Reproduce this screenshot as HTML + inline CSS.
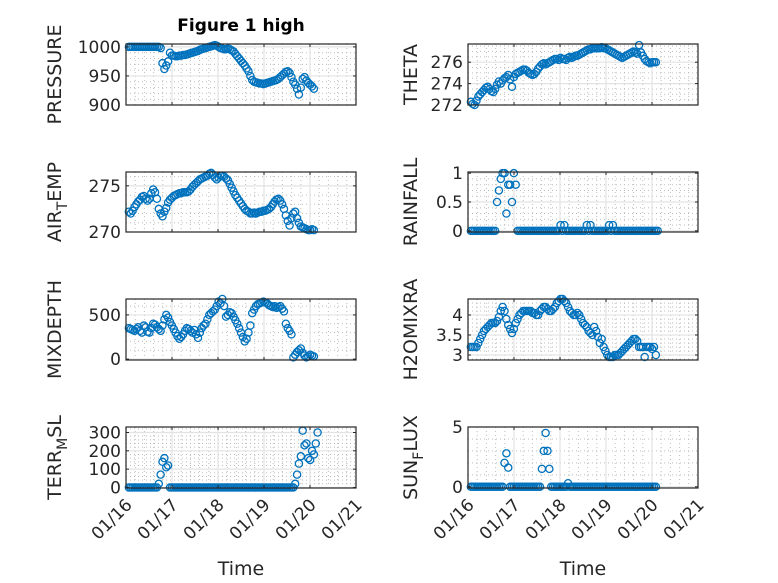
<!DOCTYPE html>
<html><head><meta charset="utf-8"><style>
html,body{margin:0;padding:0;background:#fff;}
svg{display:block;font-family:"DejaVu Sans","Liberation Sans",sans-serif;}
</style></head><body>
<svg id="fig" width="778" height="583" viewBox="0 0 778 583"></svg>
<script>
const dayLabels = ["01/16","01/17","01/18","01/19","01/20","01/21"];
const pressure = [1000,1000,1000,1000,1000,1000,1000,1000,1000,1000,1000,1000,1000,1000,1000,1000,1000,
 998,972,962,968,975,990,
 985,985,984,984,985,985,986,986,987,988,989,990,991,
 992,993,995,996,997,998,999,1000,1001,1002,1003,
 1002,1000,998,997,996,996,997,996,994,992,
 988,984,980,976,972,968,963,958,950,943,
 940,939,938,937,937,936,937,938,939,940,941,942,943,
 945,948,951,954,957,958,955,948,
 940,935,928,918,930,945,948,942,938,935,932,928];
const theta = [272.3,272.1,272.0,272.4,272.8,273.0,273.2,273.4,273.6,273.7,
 273.5,273.3,273.2,273.5,273.9,274.2,274.0,274.3,274.5,274.6,
 274.8,274.4,273.7,274.6,274.9,275.0,275.1,275.2,275.3,275.3,
 275.2,275.0,274.9,274.8,274.9,275.1,275.4,275.6,275.8,275.9,
 275.8,275.9,276.0,276.1,276.2,276.3,276.3,276.2,276.4,276.3,
 276.3,276.2,276.4,276.5,276.4,276.5,276.6,276.6,276.7,276.8,
 276.9,277.0,277.1,277.2,277.2,277.3,277.3,277.3,277.3,277.3,
 277.4,277.3,277.3,277.2,277.1,277.0,276.9,276.8,276.7,276.6,
 276.5,276.4,276.5,276.6,276.7,276.8,276.9,277.0,276.9,276.8,
 277.6,276.9,276.6,276.3,276.1,276.0,275.9,276.0,276.0,276.0];
const airTemp = [272.2,272.0,272.3,272.7,273.0,273.3,273.5,273.8,273.9,273.6,
 273.4,273.6,274.2,274.6,274.3,273.6,272.5,272.0,271.7,272.2,
 272.6,273.2,273.5,273.7,273.9,274.0,274.1,274.2,274.2,274.3,
 274.3,274.3,274.4,274.6,274.9,275.1,275.3,275.5,275.7,275.8,
 275.9,276.0,276.1,276.3,276.4,276.2,275.9,275.7,275.9,276.1,
 276.1,276.0,275.8,275.6,275.2,274.8,274.4,274.0,273.7,273.4,
 273.1,272.8,272.5,272.3,272.2,272.0,272.0,272.1,272.0,272.1,
 272.2,272.2,272.3,272.3,272.4,272.5,272.7,273.0,273.3,273.5,
 273.6,273.4,273.0,272.5,271.8,271.2,270.7,271.5,272.0,272.2,
 271.5,271.0,270.6,270.5,270.4,270.3,270.2,270.2,270.3,270.2];
const rainfall = [0,0,0,0,0,0,0,0,0,0,0,0,0,0,
 0.5,0.7,0.9,1.0,1.0,0.3,0.8,0.8,0.5,1.0,0.8,
 0,0,0,0,0,0,0,0,0,0,0,0,0,0,0,0,0,0,0,0,0,0,0,0.1,0,0.1,0,0,0,0,0,0,0,0,0,0,0,0.1,0,0.1,0,0,0,0,0,0,0,0,0,0.1,0,0.1,0,0,0,
 0,0,0,0,0,0,0,0,0,0,0,0,0,0,0,0,0,0,0,0,0];
const mixDepth = [350,340,330,320,340,360,320,300,380,360,
 310,300,350,400,390,360,340,320,380,450,
 500,470,420,380,340,300,260,230,250,280,
 320,350,340,320,300,330,280,240,300,350,
 380,400,450,500,520,540,560,600,650,630,
 680,600,480,500,530,520,480,440,400,350,
 300,250,200,230,300,380,520,560,600,620,
 630,640,650,640,630,610,600,590,600,580,
 590,600,570,540,400,350,320,280,20,50,
 80,100,120,70,40,20,30,50,40,30];
const h2oMixRa = [3.2,3.2,3.2,3.2,3.3,3.4,3.5,3.6,3.65,3.7,
 3.75,3.8,3.8,3.8,3.85,3.95,4.1,4.2,4.1,3.9,
 3.75,3.65,3.55,3.65,3.8,3.9,4.0,4.05,4.1,4.1,
 4.1,4.1,4.1,4.05,4.05,4.0,4.0,4.1,4.15,4.2,
 4.2,4.15,4.1,4.1,4.15,4.2,4.3,4.35,4.4,4.4,
 4.35,4.3,4.2,4.1,4.05,4.0,4.0,4.05,4.0,3.9,
 3.8,3.75,3.7,3.6,3.55,3.5,3.7,3.6,3.45,3.3,
 3.4,3.2,3.1,3.0,2.95,2.95,2.95,3.0,3.0,3.0,
 3.05,3.1,3.15,3.2,3.25,3.3,3.35,3.4,3.4,3.35,
 3.2,3.2,3.2,2.95,3.2,3.2,3.2,3.15,3.2,3.0];
const terrMsl = [0,0,0,0,0,0,0,0,0,0,0,0,0,0,0,0,
 20,70,140,160,110,120,
 0,0,0,0,0,0,0,0,0,0,0,0,0,0,0,0,0,0,0,0,0,0,0,0,0,0,0,0,0,0,0,0,0,0,0,0,0,0,0,0,0,0,0,0,0,0,0,0,0,0,0,0,0,0,0,0,0,0,0,0,0,0,0,0,0,0,0,
 20,70,130,170,310,230,240,160,150,200,180,240,300];
const sunFlux = [0,0,0,0,0,0,0,0,0,0,0,0,0,0,0,0,0,0,
 2.0,2.8,1.6,
 0,0,0,0,0,0,0,0,0,0,0,0,0,0,0,0,0,
 1.5,3.0,4.5,3.0,1.5,
 0,0,0,0,0,0,0,0,0,0.3,0,0,0,0,0,0,0,0,0,0,0,0,0,0,0,0,0,0,0,0,0,0,0,0,0,0,0,0,0,0,0,0,0,0,0,0,0,0,0,0,0,0,0,0,0,0,0];
const startHour = 1.5;
const hourStep = 0.975;

const NS="http://www.w3.org/2000/svg";
const svg=document.getElementById('fig');
function mk(tag,attrs,parent){const e=document.createElementNS(NS,tag);for(const k in attrs)e.setAttribute(k,attrs[k]);(parent||svg).appendChild(e);return e;}

const cols=[[126,356],[468,698]];
const rows=[[44,105],[172,232],[299,360],[427,488]];
const panels=[
 {name:"pressure",label:["PRESSURE"],data:pressure,r:0,c:0,ymin:900,ymax:1005,ticks:[900,950,1000],minor:10},
 {name:"theta",label:["THETA"],data:theta,r:0,c:1,ymin:272,ymax:277.7,ticks:[272,274,276],minor:0.5},
 {name:"air-temp",label:["AIR","T","EMP"],data:airTemp,r:1,c:0,ymin:270,ymax:276.5,ticks:[270,275],minor:1},
 {name:"rainfall",label:["RAINFALL"],data:rainfall,r:1,c:1,ymin:-0.02,ymax:1.02,ticks:[0,0.5,1],minor:0.1},
 {name:"mixdepth",label:["MIXDEPTH"],data:mixDepth,r:2,c:0,ymin:-10,ymax:680,ticks:[0,500],minor:100},
 {name:"h2omixra",label:["H2OMIXRA"],data:h2oMixRa,r:2,c:1,ymin:2.875,ymax:4.4,ticks:[3,3.5,4],minor:0.1},
 {name:"terr-msl",label:["TERR","M","SL"],data:terrMsl,r:3,c:0,ymin:-3,ymax:330,ticks:[0,100,200,300],minor:20},
 {name:"sun-flux",label:["SUN","F","LUX"],data:sunFlux,r:3,c:1,ymin:-0.1,ymax:5,ticks:[0,5],minor:1}
];

panels.forEach(p=>{
 const [x0,x1]=cols[p.c], [y0,y1]=rows[p.r];
 const xs=d=>x0+(x1-x0)*d/5;
 const ys=v=>y1-(y1-y0)*(v-p.ymin)/(p.ymax-p.ymin);
 const g=mk('g',{});
 
 
 for(let d=0.2;d<5;d+=0.2){ if(Math.abs(d-Math.round(d))<1e-6) continue;
  mk('line',{x1:xs(d),x2:xs(d),y1:y0,y2:y1,stroke:'#bdbdbd','stroke-width':1,'stroke-dasharray':'1 3'},g);}
 const mstart=Math.ceil(p.ymin/p.minor-1e-9)*p.minor;
 for(let v=mstart;v<p.ymax;v+=p.minor){ if(p.ticks.some(t=>Math.abs(t-v)<1e-6)) continue;
  mk('line',{x1:x0,x2:x1,y1:ys(v),y2:ys(v),stroke:'#bdbdbd','stroke-width':1,'stroke-dasharray':'1 3'},g);}
 for(let d=1;d<5;d++) mk('line',{x1:xs(d),x2:xs(d),y1:y0,y2:y1,stroke:'#e3e3e3','stroke-width':1.2},g);
 p.ticks.forEach(v=>mk('line',{x1:x0,x2:x1,y1:ys(v),y2:ys(v),stroke:'#e3e3e3','stroke-width':1.2},g));
 p.data.forEach((v,i)=>{
  const c=mk('circle',{cx:xs((startHour+i*hourStep)/24),cy:ys(v),r:3.6,fill:'none',stroke:'#0072BD','stroke-width':1.3},g);
  
  
 });
 mk('rect',{x:x0,y:y0,width:x1-x0,height:y1-y0,fill:'none',stroke:'#262626','stroke-width':1.2},g);
 for(let d=0;d<=5;d++){mk('line',{x1:xs(d),x2:xs(d),y1:y1,y2:y1-3,stroke:'#262626'},g);mk('line',{x1:xs(d),x2:xs(d),y1:y0,y2:y0+3,stroke:'#262626'},g);}
 p.ticks.forEach(v=>{
  mk('line',{x1:x0,x2:x0+3,y1:ys(v),y2:ys(v),stroke:'#262626'},g);
  mk('line',{x1:x1,x2:x1-3,y1:ys(v),y2:ys(v),stroke:'#262626'},g);
  const t=mk('text',{x:x0-5,y:ys(v)+6,'text-anchor':'end','font-size':17,fill:'#262626'},g);
  t.textContent=String(v);
  
  
 });
 const lt=mk('text',{transform:`translate(${p.c===0?61:417},${(y0+y1)/2}) rotate(-90)`,'text-anchor':'middle','font-size':19,fill:'#262626'},g);
 
 
 if(p.label.length===1){lt.textContent=p.label[0];}
 else{
  const a=mk('tspan',{},lt);a.textContent=p.label[0];
  const b=mk('tspan',{dy:6,'font-size':14},lt);b.textContent=p.label[1];
  const c=mk('tspan',{dy:-6},lt);c.textContent=p.label[2];
 }
 if(p.r===3){
  dayLabels.forEach((lab,d)=>{
   const t=mk('text',{transform:`translate(${xs(d)+7},${y1+18}) rotate(-45)`,'text-anchor':'end','font-size':17,fill:'#262626'},g);
   t.textContent=lab;
   
   
  });
  const xt=mk('text',{x:(x0+x1)/2,y:575,'text-anchor':'middle','font-size':19,fill:'#262626'},g);
  xt.textContent='Time';
  
  
 }
});
const title=mk('text',{x:241,y:31,'text-anchor':'middle','font-size':17,'font-weight':'bold',fill:'#000'});
title.textContent='Figure 1 high';


</script>
</body></html>
